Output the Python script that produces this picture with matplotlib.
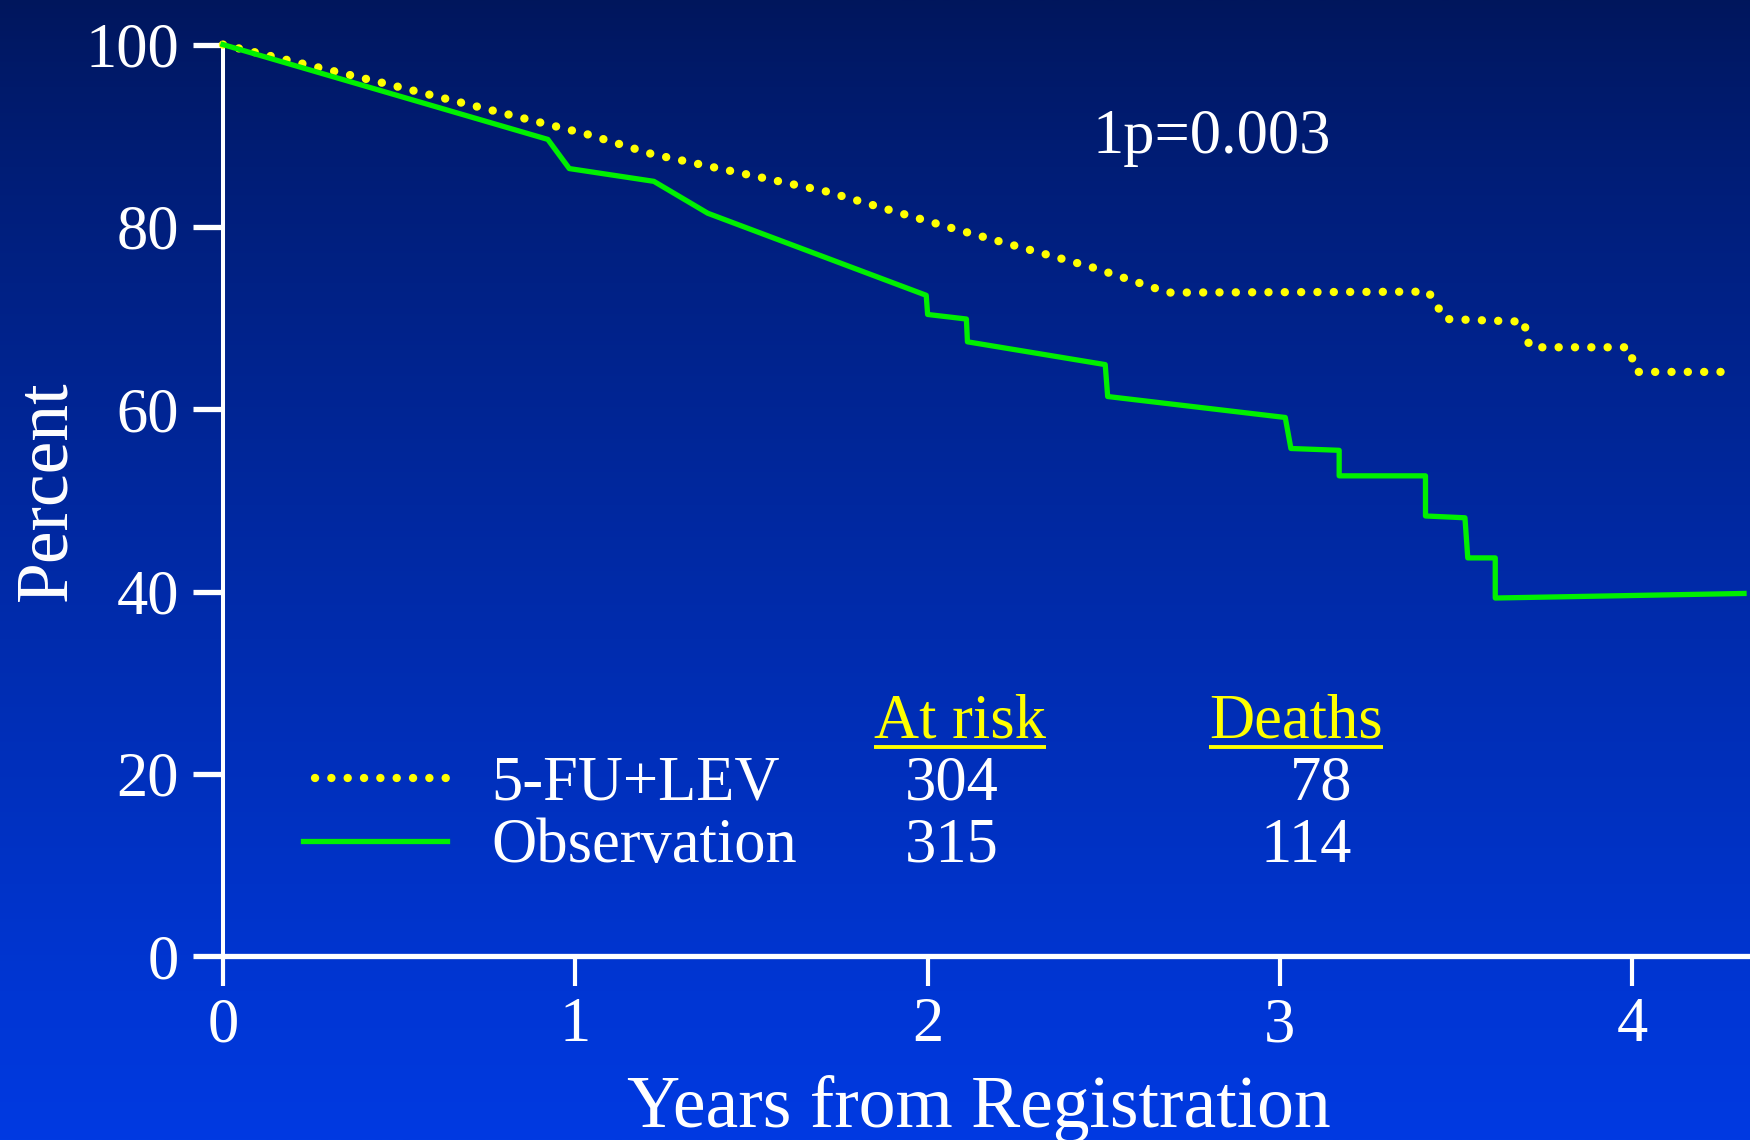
import numpy as np
import matplotlib
matplotlib.use('Agg')
import matplotlib.pyplot as plt

plt.rcParams['font.family'] = ['Liberation Serif', 'DejaVu Serif']

# survival curves (years, percent)
obs_t = [0, 0.922, 0.983, 1.223, 1.376, 1.996, 2.0, 2.11, 2.113, 2.504, 2.511,
         3.015, 3.031, 3.168, 3.168, 3.413, 3.413, 3.525, 3.533, 3.611, 3.611, 4.317]
obs_s = [100, 89.6, 86.4, 85.0, 81.5, 72.5, 70.4, 69.9, 67.4, 64.9, 61.4,
         59.1, 55.7, 55.5, 52.7, 52.7, 48.3, 48.1, 43.7, 43.7, 39.3, 39.8]

lev_t = [0, 0.453, 1.04, 1.217, 1.711, 2.066, 2.465, 2.683, 3.421, 3.445, 3.469,
         3.696, 3.696, 3.713, 3.99, 4.001, 4.013, 4.29]
lev_s = [100, 95.8, 90.1, 88.0, 83.9, 79.9, 75.6, 72.8, 72.9, 71.4, 69.9,
         69.6, 67.9, 66.8, 66.8, 65.4, 64.1, 64.1]

groups = ['5-FU+LEV', 'Observation']
at_risk = [304, 315]
deaths = [78, 114]
pval = '1p=0.003'

xticks = [0, 1, 2, 3, 4]
yticks = [0, 20, 40, 60, 80, 100]

YELLOW = '#ffff00'
GREEN = '#00f000'
FS = 45

fig = plt.figure(figsize=(17.5, 11.4), dpi=100)

# background gradient
bg = fig.add_axes([0, 0, 1, 1])
frac = np.linspace(0, 1, 512) ** 0.85
top = np.array([0, 22, 92]) / 255
bot = np.array([0, 58, 226]) / 255
grad = top[None, :] * (1 - frac[:, None]) + bot[None, :] * frac[:, None]
bg.imshow(grad[:, None, :], aspect='auto', extent=[0, 1, 0, 1])
bg.set_axis_off()

ax = fig.add_axes([0.1274, 0.1611, 0.8726, 0.7998])
ax.set_facecolor('none')
ax.set_xlim(0, 4.334)
ax.set_ylim(0, 100)

ax.plot(lev_t, lev_s, color=YELLOW, lw=6.0, linestyle=(0, (0.01, 1.95)),
        dash_capstyle='round', clip_on=False, zorder=3)
ax.plot(obs_t, obs_s, color=GREEN, lw=3.8, clip_on=False, zorder=4)

for s in ['top', 'right']:
    ax.spines[s].set_visible(False)
ax.spines['left'].set_color('white')
ax.spines['left'].set_linewidth(2.9)
ax.spines['bottom'].set_color('white')
ax.spines['bottom'].set_linewidth(3.8)

ax.set_xticks(xticks)
ax.set_yticks(yticks)
ax.tick_params(axis='x', colors='white', length=21.6, width=3.0, pad=8, labelsize=FS)
ax.tick_params(axis='y', colors='white', length=21.6, width=3.8, pad=10, labelsize=FS)

fig.text(0.5591, 0.0117, 'Years from Registration', color='white', fontsize=53,
         ha='center', va='baseline')
fig.text(65 / 1750, 0.5693, 'Percent', color='white', fontsize=53, rotation=90,
         rotation_mode='anchor', ha='center', va='baseline')

ax.text(2.469, 88.1, pval, color='white', fontsize=FS, va='baseline')

# legend / table
row_y = [17.2, 10.4]
sample_y = [19.6, 12.7]
ax.plot([0.261, 0.644], [sample_y[0]] * 2, color=YELLOW, lw=6.0,
        linestyle=(0, (0.01, 1.95)), dash_capstyle='round')
ax.plot([0.227, 0.636], [sample_y[1]] * 2, color=GREEN, lw=3.8)
for i in range(2):
    ax.text(0.761, row_y[i], groups[i], color='white', fontsize=FS, va='baseline')
    ax.text(2.069, row_y[i], str(at_risk[i]), color='white', fontsize=FS,
            va='baseline', ha='center')
    ax.text(3.205, row_y[i], str(deaths[i]), color='white', fontsize=FS,
            va='baseline', ha='right')

heads = []
for x, lab in [(1.848, 'At risk'), (2.799, 'Deaths')]:
    heads.append(ax.text(x, 24.0, lab, color=YELLOW, fontsize=FS, va='baseline'))

fig.canvas.draw()
r = fig.canvas.get_renderer()
inv = ax.transData.inverted()
for h in heads:
    bb = h.get_window_extent(r)
    x0 = inv.transform((bb.x0, 0))[0]
    x1 = inv.transform((bb.x1, 0))[0]
    ax.plot([x0, x1], [23.0, 23.0], color=YELLOW, lw=2.8, solid_capstyle='butt')

fig.savefig('out.png', dpi=100)
